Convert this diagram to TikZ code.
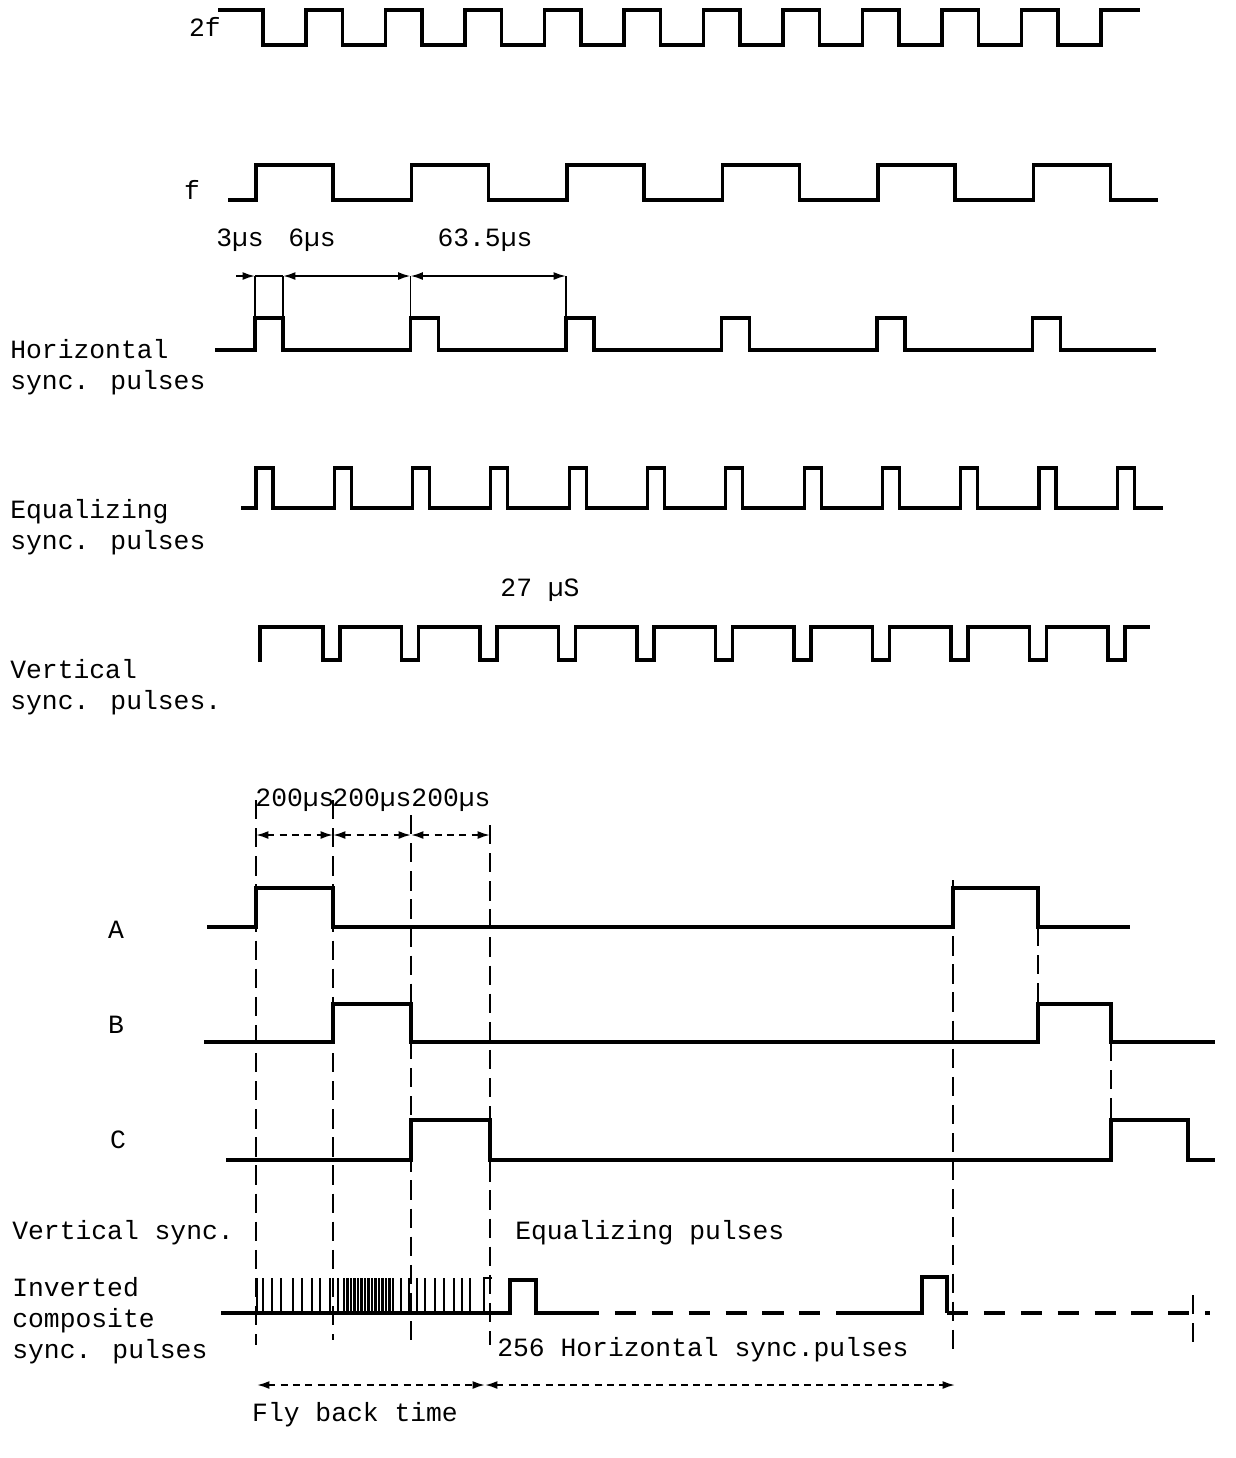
\documentclass[tikz,border=0pt]{standalone}
\usepackage{fontspec}
\newfontfamily\typefont{Liberation Mono}
\usetikzlibrary{arrows.meta}

\tikzset{
  sigline/.style={line width=1.8pt, line join=miter},
  serrline/.style={line width=1.3pt},
  guideline/.style={line width=1.1pt, dash pattern=on 11pt off 5pt},
  extline/.style={line width=1.1pt},
  dimarrow/.style={line width=1.1pt, {Latex[length=7pt,width=4.5pt]}-{Latex[length=7pt,width=4.5pt]}},
  dimdash/.style={dimarrow, dash pattern=on 4pt off 3pt},
  txt/.style={font=\typefont\fontsize{15}{17.6}\selectfont, inner sep=0pt},
  lbl/.style={txt, anchor=west, align=left},
}

\begin{document}
\begin{tikzpicture}[x=0.02cm, y=-0.02cm]
\useasboundingbox (0,0) rectangle (1236,1458);

% labels on the left
\node [txt] (lbl2f) at (205,27) {2f};
\node [txt] (lblf) at (192,190) {f};
\node [lbl] (lblhor) at (10,367) {Horizontal\\sync. pulses};
\node [lbl] (lbleq) at (10,527) {Equalizing\\sync. pulses};
\node [lbl] (lblver) at (10,687) {Vertical\\sync. pulses.};
\node [txt] (lblA) at (116,930) {A};
\node [txt] (lblB) at (116,1025) {B};
\node [txt] (lblC) at (118,1140) {C};
\node [lbl] (lblvs) at (12,1233) {Vertical sync.};
\node [lbl] (lblinv) at (12,1321) {Inverted\\composite\\sync. pulses};

% 2f and f
\draw [sigline] (218,10) foreach \k in {0,...,10} {-- ({263+79.5*\k},10) -- ({263+79.5*\k},45) -- ({306+79.5*\k},45) -- ({306+79.5*\k},10)} -- (1140,10);
\draw [sigline] (228,200) foreach \k in {0,...,5} {-- ({256+155.5*\k},200) -- ({256+155.5*\k},165) -- ({333+155.5*\k},165) -- ({333+155.5*\k},200)} -- (1158,200);

% horizontal sync
\node [txt] (dim3) at (240,240) {3µs};
\node [txt] (dim6) at (312,240) {6µs};
\node [txt] (dim63) at (485,240) {63.5µs};
\coordinate (hA) at (255,276);
\coordinate (hB) at (283,276);
\coordinate (hC) at (410.5,276);
\coordinate (hD) at (566,276);
\coordinate (hA0) at (236,276);
\draw [sigline] (215,350) foreach \k in {0,...,5} {-- ({255+155.5*\k},350) -- ({255+155.5*\k},318) -- ({283+155.5*\k},318) -- ({283+155.5*\k},350)} -- (1156,350);
\draw [extline] (hA) -- ++(0,42);
\draw [extline] (hB) -- ++(0,42);
\draw [extline] (hC) -- ++(0,42);
\draw [extline] (hD) -- ++(0,42);
\draw [line width=1.1pt, -{Latex[length=7pt,width=4.5pt]}] (hA0) -- (hA);
\draw [line width=1.1pt] (hA) -- (hB);
\draw [dimarrow] (hB) -- (hC);
\draw [dimarrow] (hC) -- (hD);

% equalizing and vertical
\draw [sigline] (241,508) foreach \k in {0,...,11} {-- ({256+78.3*\k},508) -- ({256+78.3*\k},468) -- ({273+78.3*\k},468) -- ({273+78.3*\k},508)} -- (1163,508);
\node [txt] (dim27) at (540,590) {27 µS};
\draw [sigline] (260,662) -- (260,627) foreach \k in {0,...,10} {-- ({323+78.5*\k},627) -- ({323+78.5*\k},660) -- ({340+78.5*\k},660) -- ({340+78.5*\k},627)} -- (1150,627);

% A, B, C
\node [txt] (dimA1) at (295,800) {200µs};
\node [txt] (dimA2) at (372,800) {200µs};
\node [txt] (dimA3) at (451,800) {200µs};
\coordinate (a0) at (256,835);
\coordinate (a1) at (333,835);
\coordinate (a2) at (411,835);
\coordinate (a3) at (490,835);
\draw [dimdash] (a0) -- (a1);
\draw [dimdash] (a1) -- (a2);
\draw [dimdash] (a2) -- (a3);
\draw [sigline] (207,927) -- (256,927) -- (256,888) -- (333,888) -- (333,927) -- (953,927) -- (953,888) -- (1038,888) -- (1038,927) -- (1130,927);
\draw [sigline] (204,1042) -- (333,1042) -- (333,1004) -- (411,1004) -- (411,1042) -- (1038,1042) -- (1038,1004) -- (1111,1004) -- (1111,1042) -- (1215,1042);
\draw [sigline] (226,1160) -- (411,1160) -- (411,1120) -- (490,1120) -- (490,1160) -- (1111,1160) -- (1111,1120) -- (1188,1120) -- (1188,1160) -- (1215,1160);
\foreach \x/\ya/\yb in {256/800/1345, 333/800/1340, 411/815/1340, 490/825/1345, 953/880/1350, 1038/927/1004, 1111/1042/1120, 1193/1295/1345}
  \draw [guideline] (\x,\ya) -- (\x,\yb);

% inverted composite
\node [lbl] (lbleqp) at (515,1233) {Equalizing pulses};
\foreach \x in {257,263,272,281,293,302,312,320,330,338,344,347.5,...,396,401,409,417,425,435,444,454,462,470}
  \draw [serrline] (\x,1313) -- (\x,1278);
\draw [serrline] (492,1278) -- (484,1278) -- (484,1313);
\draw [sigline] (221,1313) -- (510,1313) -- (510,1280) -- (536,1280) -- (536,1313) -- (578,1313);
\draw [sigline, dash pattern=on 12pt off 9pt] (578,1313) -- (856,1313);
\draw [sigline] (856,1313) -- (922,1313) -- (922,1277) -- (947,1277) -- (947,1313);
\draw [sigline, dash pattern=on 12pt off 9pt] (947,1313) -- (1210,1313);
\node [lbl] (lblhs) at (497,1350) {256 Horizontal sync.pulses};
\coordinate (b0) at (257,1385);
\coordinate (b1) at (485,1385);
\coordinate (b2) at (955,1385);
\draw [dimdash] (b0) -- (b1);
\draw [dimdash] (b1) -- (b2);
\node [txt] (lblfly) at (355,1415) {Fly back time};

\end{tikzpicture}
\end{document}
